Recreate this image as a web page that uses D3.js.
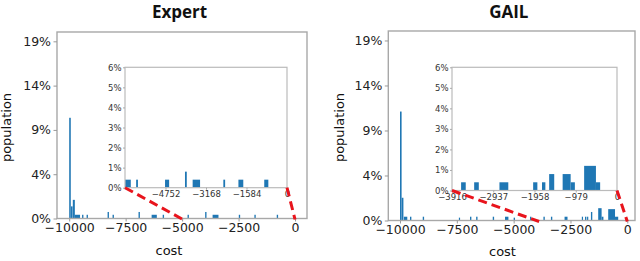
<!DOCTYPE html>
<html>
<head>
<meta charset="utf-8">
<script src="https://cdn.jsdelivr.net/npm/d3@7"></script>
<style>
  html, body { margin: 0; padding: 0; background: #fff; }
  svg { display: block; }
</style>
</head>
<body>
<div id="chart"></div>
<script>
// ---- data (cost bins in cost units, population in %) ----
var expertMainStart = [-10000, -9920, -9840, -9750, -9430, -9230, -8300, -8080, -6930, -6350, -5860, -4760, -3980, -3650, -2490, -1800, -810];
var expertMainEnd   = [-9930, -9850, -9750, -9520, -9370, -9170, -8240, -8020, -6870, -6120, -5800, -4700, -3920, -3390, -2430, -1740, -750];
var expertMainPct   = [10.8, 1.3, 2.0, 0.4, 0.4, 0.4, 0.7, 0.4, 0.7, 0.4, 0.4, 0.4, 0.7, 0.4, 0.4, 0.4, 0.4];

var expertInsetStart = [-6336, -5900, -4770, -3990, -3690, -2490, -1900, -890];
var expertInsetEnd   = [-6110, -5830, -4610, -3920, -3400, -2420, -1710, -730];
var expertInsetPct   = [0.4, 0.4, 0.4, 0.8, 0.4, 0.4, 0.4, 0.4];

var gailMainStart = [-10000, -9925, -9830, -9560, -9000, -7410, -6920, -6650, -5920, -5380, -5000, -4280, -3690, -3360, -2760, -2000, -1860, -1770, -1600, -1280, -1130, -840, -540];
var gailMainEnd   = [-9930, -9850, -9680, -9500, -8940, -7360, -6860, -6590, -5860, -5230, -4940, -4220, -3630, -3300, -2630, -1950, -1800, -1720, -1540, -1130, -1050, -540, -400];
var gailMainPct   = [11.5, 2.4, 0.4, 0.4, 0.4, 0.3, 0.4, 0.4, 0.4, 0.4, 0.3, 0.4, 0.4, 0.4, 0.4, 0.4, 0.4, 0.4, 0.9, 1.3, 0.4, 1.2, 0.4];

var gailInsetStart = [-3700, -3390, -2790, -1990, -1780, -1610, -1290, -1100, -780, -500];
var gailInsetEnd   = [-3590, -3280, -2580, -1890, -1700, -1490, -1100, -1000, -500, -400];
var gailInsetPct   = [0.4, 0.4, 0.4, 0.4, 0.4, 0.8, 0.8, 0.4, 1.2, 0.4];

var mainXTicks = [-10000, -7500, -5000, -2500, 0];
var mainYTicks = [0, 4.75, 9.5, 14.25, 19];
var mainYLabels = ["0%", "4%", "9%", "14%", "19%"];
var insetYTicks = [0, 1, 2, 3, 4, 5, 6];
var expertInsetXTicks = [-4752, -3168, -1584, 0];
var gailInsetXTicks = [-3916, -2937, -1958, -979, 0];

var width = 640, height = 261;
var blue = "#1f77b4";

var svg = d3.select("#chart").append("svg")
    .attr("width", width)
    .attr("height", height);

function bins(start, end, pct) {
    return start.map(function(s, i) { return { x0: s, x1: end[i], v: pct[i] }; });
}

function drawPanel(p) {
    var g = svg.append("g");

    // main axes
    var x = d3.scaleLinear().domain(p.mainDomain).range([p.left, p.right]);
    var y = d3.scaleLinear().domain([0, 20]).range([p.bottom, p.top]);

    g.selectAll("rect.main")
        .data(p.main)
        .enter().append("rect")
        .attr("x", function(d) { return x(d.x0); })
        .attr("width", function(d) { return Math.max(1.2, x(d.x1) - x(d.x0)); })
        .attr("y", function(d) { return y(d.v); })
        .attr("height", function(d) { return y(0) - y(d.v); })
        .attr("fill", blue);

    g.append("rect")
        .attr("x", p.left).attr("y", p.top)
        .attr("width", p.right - p.left).attr("height", p.bottom - p.top)
        .attr("fill", "none").attr("stroke", "#a8a8a8").attr("stroke-width", 1.4);

    var yAxis = d3.axisLeft(y).tickValues(mainYTicks)
        .tickFormat(function(d, i) { return mainYLabels[i]; })
        .tickSize(3.5).tickPadding(2.5);
    var ya = g.append("g").attr("transform", "translate(" + p.left + ",0)").call(yAxis);
    ya.select(".domain").remove();
    ya.selectAll("line").attr("stroke", "#999");
    ya.selectAll("text").attr("font-size", 12.5).attr("fill", "#222")
        .attr("font-family", "DejaVu Sans");

    var xAxis = d3.axisBottom(x).tickValues(mainXTicks)
        .tickFormat(d3.format("d")).tickSize(3).tickPadding(1.5);
    var xa = g.append("g").attr("transform", "translate(0," + p.bottom + ")").call(xAxis);
    xa.select(".domain").remove();
    xa.selectAll("line").attr("stroke", "#999");
    xa.selectAll("text").attr("font-size", 12.5).attr("fill", "#222")
        .attr("font-family", "DejaVu Sans");

    // titles and labels
    g.append("text")
        .attr("x", p.titleX).attr("y", 18)
        .attr("text-anchor", "middle")
        .attr("font-family", "Open Sans").attr("font-weight", "bold")
        .attr("font-size", 17).attr("fill", "#111")
        .text(p.title);

    g.append("text")
        .attr("transform", "translate(" + p.ylabX + ",127.5) rotate(-90)")
        .attr("text-anchor", "middle")
        .attr("font-family", "DejaVu Sans").attr("font-size", 13).attr("fill", "#111")
        .text("population");

    g.append("text")
        .attr("x", p.xlabX).attr("y", p.xlabY)
        .attr("text-anchor", "middle")
        .attr("font-family", "DejaVu Sans").attr("font-size", 13).attr("fill", "#111")
        .text("cost");

    // inset
    var ix = d3.scaleLinear().domain(p.insetDomain).range([p.il, p.ir]);
    var iy = d3.scaleLinear().domain([0, 6]).range([p.ib, p.it]);

    g.append("rect")
        .attr("x", p.il).attr("y", p.it)
        .attr("width", p.ir - p.il).attr("height", p.ib - p.it)
        .attr("fill", "#fff");

    g.selectAll("rect.inset")
        .data(p.inset)
        .enter().append("rect")
        .attr("x", function(d) { return ix(d.x0); })
        .attr("width", function(d) { return ix(d.x1) - ix(d.x0); })
        .attr("y", function(d) { return iy(d.v); })
        .attr("height", function(d) { return iy(0) - iy(d.v); })
        .attr("fill", blue);

    g.append("rect")
        .attr("x", p.il).attr("y", p.it)
        .attr("width", p.ir - p.il).attr("height", p.ib - p.it)
        .attr("fill", "none").attr("stroke", "#bbb").attr("stroke-width", 1.2);

    var iyAxis = d3.axisLeft(iy).tickValues(insetYTicks)
        .tickFormat(function(d) { return d + "%"; })
        .tickSize(2).tickPadding(1.5);
    var iya = g.append("g").attr("transform", "translate(" + p.il + ",0)").call(iyAxis);
    iya.select(".domain").remove();
    iya.selectAll("line").attr("stroke", "#aaa");
    iya.selectAll("text").attr("font-size", 8.5).attr("fill", "#333")
        .attr("font-family", "DejaVu Sans");

    var ixAxis = d3.axisBottom(ix).tickValues(p.insetTicks)
        .tickFormat(d3.format("d")).tickSize(2).tickPadding(1.5);
    var ixa = g.append("g").attr("transform", "translate(0," + p.ib + ")").call(ixAxis);
    ixa.select(".domain").remove();
    ixa.selectAll("line").attr("stroke", "#aaa");
    ixa.selectAll("text").attr("font-size", 8.5).attr("fill", "#333")
        .attr("font-family", "DejaVu Sans");

    // red dashed connectors from the inset corners down to the main axis
    var links = [
        [ix(p.insetDomain[0]), iy(0), x(p.linkTo[0]), y(0) + 1],
        [ix(p.insetDomain[1]), iy(0), x(p.linkTo[1]), y(0) + 1]
    ];
    g.selectAll("line.link")
        .data(links)
        .enter().append("line")
        .attr("x1", function(d) { return d[0]; })
        .attr("y1", function(d) { return d[1]; })
        .attr("x2", function(d) { return d[2]; })
        .attr("y2", function(d) { return d[3]; })
        .attr("stroke", "#e8141c")
        .attr("stroke-width", 3)
        .attr("stroke-dasharray", "9,5");
}

drawPanel({
    title: "Expert", titleX: 179.5,
    left: 57, right: 307, top: 32, bottom: 218.5,
    mainDomain: [-10540, 530],
    main: bins(expertMainStart, expertMainEnd, expertMainPct),
    il: 125, ir: 287, it: 67.3, ib: 187.7,
    insetDomain: [-6336, 0],
    insetTicks: expertInsetXTicks,
    inset: bins(expertInsetStart, expertInsetEnd, expertInsetPct),
    linkTo: [-4960, 0],
    ylabX: 11, xlabX: 169, xlabY: 254.5
});

drawPanel({
    title: "GAIL", titleX: 508.8,
    left: 388.3, right: 635, top: 31, bottom: 220.5,
    mainDomain: [-10515, 339],
    main: bins(gailMainStart, gailMainEnd, gailMainPct),
    il: 452, ir: 617, it: 67.3, ib: 190.5,
    insetDomain: [-3916, 0],
    insetTicks: gailInsetXTicks,
    inset: bins(gailInsetStart, gailInsetEnd, gailInsetPct),
    linkTo: [-3880, 0],
    ylabX: 344, xlabX: 502.5, xlabY: 256
});
</script>
</body>
</html>
